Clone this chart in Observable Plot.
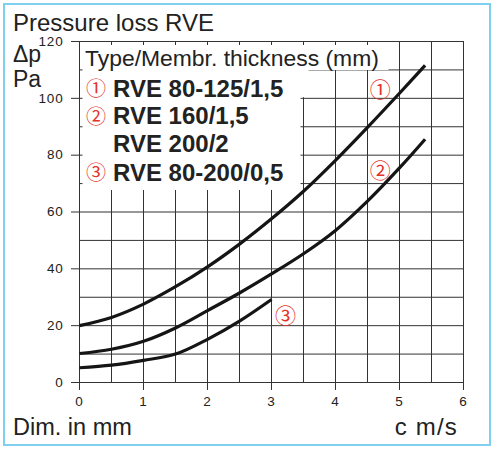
<!DOCTYPE html>
<html>
<head>
<meta charset="utf-8">
<script src="https://cdn.jsdelivr.net/npm/d3@7"></script>
<script src="https://cdn.jsdelivr.net/npm/@observablehq/plot@0.6"></script>
<style>
  html, body { margin: 0; padding: 0; background: #fff; }
  #wrap { position: relative; width: 500px; height: 454px; }
  #frame { position: absolute; left: 3px; top: 3px; width: 488px; height: 443px; box-sizing: border-box; border: 2.6px solid #7fd0ef; pointer-events: none; }
</style>
</head>
<body>
<div id="wrap"><div id="frame"></div></div>
<script>
// ---- data ----
const xTicks = [0, 1, 2, 3, 4, 5, 6];
const yTicks = [0, 20, 40, 60, 80, 100, 120];
const xGrid = [0, 0.5, 1, 1.5, 2, 2.5, 3, 3.5, 4, 4.5, 5, 5.5, 6];
const yGrid = [0, 10, 20, 30, 40, 50, 60, 70, 80, 90, 100, 110, 120];

const c1 = [0, 0.5, 1, 1.5, 2, 2.5, 3, 3.5, 4, 4.5, 5, 5.4];
const dp1 = [20, 22.9, 27.6, 33.7, 40.7, 48.7, 57.6, 67.3, 78.2, 89.8, 101.8, 111.6];
const c2 = [0, 0.5, 1, 1.5, 2, 2.5, 3, 3.5, 4, 4.5, 5, 5.4];
const dp2 = [10.2, 11.7, 14.5, 19.2, 25.3, 31.5, 38.2, 45.3, 53.5, 63.8, 75.5, 85.6];
const c3 = [0, 0.5, 1, 1.5, 2, 2.5, 3];
const dp3 = [5.2, 6.1, 7.8, 10, 15.2, 21.6, 29.2];

const curveLabelText = ["①", "②", "③"];
const curveLabelX = [4.70, 4.70, 3.22];
const curveLabelY = [102.7, 74.4, 23.3];

const legendTitle = "Type/Membr. thickness (mm)";
const legendNums = ["①", "②", "", "③"];
const legendNames = ["RVE 80-125/1,5", "RVE 160/1,5", "RVE 200/2", "RVE 80-200/0,5"];

const chartTitle = "Pressure loss RVE";
const yLabel1 = "Δp";
const yLabel2 = "Pa";
const xLabelLeft = "Dim. in mm";
const xLabelRight = "c m/s";

// ---- tables built from the arrays ----
const rows = [
  ...c1.map((c, i) => ({series: "1", c, dp: dp1[i]})),
  ...c2.map((c, i) => ({series: "2", c, dp: dp2[i]})),
  ...c3.map((c, i) => ({series: "3", c, dp: dp3[i]}))
];
const curveLabels = curveLabelText.map((t, i) => ({t, x: curveLabelX[i], y: curveLabelY[i]}));

const RED = "#e4322b";
const INK = "#222";
const SANS = "'Liberation Sans', Arial, Helvetica, sans-serif";
const CJK = "'Noto Sans CJK JP', 'Noto Sans CJK SC', sans-serif";

// legend + titles drawn as a custom mark (masks the grid behind the legend)
function legendMark() {
  const g = d3.create("svg:g");
  const masks = [[82.5, 45, 306, 25], [82.5, 70, 226, 27.2], [82.5, 97, 218, 93]];
  for (const [x, y, w, h] of masks) g.append("rect").attr("x", x).attr("y", y).attr("width", w).attr("height", h).attr("fill", "#fff");
  const txt = (s, x, y, size, opts = {}) => g.append("text").text(s)
    .attr("x", x).attr("y", y).attr("font-size", size)
    .attr("font-family", opts.family || SANS)
    .attr("font-weight", opts.weight || "normal")
    .attr("fill", opts.fill || INK)
    .attr("letter-spacing", opts.ls || 0)
    .attr("text-anchor", opts.anchor || "start");
  txt(legendTitle, 85, 66.3, 22.9);
  const base = [96.7, 124.3, 152.3, 180.7];
  legendNames.forEach((n, i) => {
    txt(n, 113, base[i], 24, {weight: "bold"});
    if (legendNums[i]) txt(legendNums[i], 96, base[i] - 0.5, 20, {family: CJK, fill: RED, anchor: "middle"});
  });
  txt(chartTitle, 13, 30.7, 24);
  txt(yLabel1, 13, 61.7, 23);
  txt(yLabel2, 13, 87.3, 23);
  txt(xLabelLeft, 13, 435, 23.5);
  txt(xLabelRight, 458, 435, 24, {anchor: "end", ls: 1.2});
  return g.node();
}

const chart = Plot.plot({
  width: 500,
  height: 454,
  marginLeft: 79,
  marginRight: 37,
  marginTop: 41,
  marginBottom: 72,
  x: {domain: [0, 6]},
  y: {domain: [0, 120]},
  style: {fontFamily: SANS, fontSize: "13.5px", color: INK, background: "transparent", overflow: "visible"},
  marks: [
    Plot.gridX(xGrid, {stroke: "#333", strokeOpacity: 1, strokeWidth: 1}),
    Plot.gridY(yGrid, {stroke: "#333", strokeOpacity: 1, strokeWidth: 1}),
    Plot.axisX(xTicks, {tickSize: 8, tickPadding: 6, label: null, stroke: "#333", fill: INK}),
    Plot.axisY(yTicks, {tickSize: 8, tickPadding: 8, label: null, stroke: "#333", fill: INK}),
    legendMark,
    Plot.line(rows, {x: "c", y: "dp", z: "series", stroke: "#151515", strokeWidth: 3.2, curve: "catmull-rom", strokeLinecap: "butt"}),
    Plot.text(curveLabels, {x: "x", y: "y", text: "t", fill: RED, fontSize: 21, fontFamily: CJK})
  ]
});
chart.style.position = "absolute";
chart.style.left = "0px";
chart.style.top = "0px";
chart.querySelectorAll("g[aria-label='x-axis tick label'] text, g[aria-label='y-axis tick label'] text").forEach(t => t.setAttribute("letter-spacing", "0.8"));
document.getElementById("wrap").prepend(chart);
</script>
</body>
</html>
